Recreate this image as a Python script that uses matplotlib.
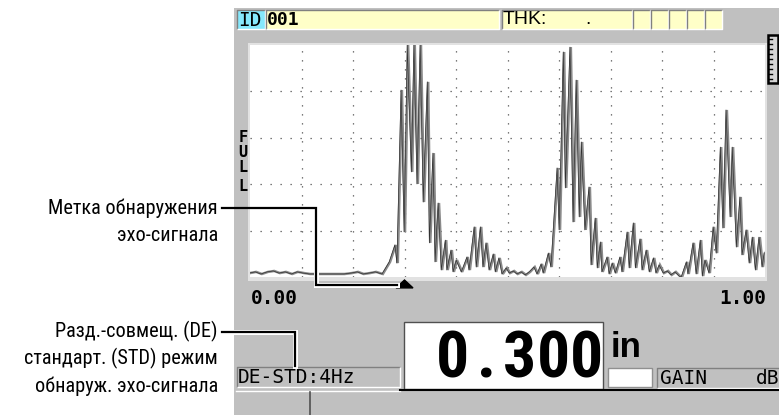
import os
import matplotlib
matplotlib.use("Agg")
import matplotlib.pyplot as plt
from matplotlib import font_manager
from matplotlib.font_manager import FontProperties
from matplotlib.patches import Rectangle, Polygon
from matplotlib.transforms import blended_transform_factory, offset_copy

# ---- data ----
ECHO_DEPTH_IN = [0.000, 0.012, 0.023, 0.035, 0.047, 0.058, 0.070, 0.082, 0.093, 0.105, 0.117, 0.132,
                 0.184, 0.198, 0.210, 0.221, 0.233, 0.245, 0.258, 0.272, 0.283, 0.287, 0.295, 0.301,
                 0.307, 0.315, 0.320, 0.326, 0.332, 0.338, 0.346, 0.350, 0.357, 0.361, 0.367, 0.373,
                 0.381, 0.384, 0.392, 0.396, 0.402, 0.412, 0.423, 0.427, 0.437, 0.441, 0.449, 0.454,
                 0.460, 0.466, 0.474, 0.478, 0.485, 0.491, 0.499, 0.505, 0.513, 0.520, 0.528, 0.536,
                 0.544, 0.553, 0.559, 0.567, 0.571, 0.581, 0.586, 0.598, 0.602, 0.610, 0.614, 0.623,
                 0.629, 0.635, 0.641, 0.645, 0.652, 0.660, 0.664, 0.672, 0.676, 0.682, 0.685, 0.695,
                 0.699, 0.705, 0.711, 0.720, 0.724, 0.734, 0.738, 0.746, 0.750, 0.759, 0.763, 0.771,
                 0.777, 0.785, 0.790, 0.796, 0.804, 0.812, 0.819, 0.827, 0.835, 0.839, 0.849, 0.852,
                 0.862, 0.868, 0.876, 0.880, 0.885, 0.893, 0.901, 0.907, 0.915, 0.920, 0.926, 0.934,
                 0.938, 0.946, 0.953, 0.957, 0.965, 0.971, 0.977, 0.983, 0.990, 0.996, 1.000]
ECHO_AMP_PCT = [1.7, 2.2, 1.3, 2.2, 2.6, 1.7, 2.2, 1.3, 2.2, 1.7, 1.3, 1.3,
                1.3, 1.7, 2.2, 1.3, 1.7, 2.2, 1.3, 6.5, 13.8, 6.0, 80.6, 19.4,
                100, 45.3, 100, 40.1, 100, 32.3, 84.1, 14.7, 53.4, 6.5, 31.9, 3.0,
                15.9, 3.0, 11.6, 2.2, 7.3, 2.2, 8.6, 3.0, 21.6, 4.3, 21.6, 4.3,
                14.7, 3.0, 9.9, 2.2, 8.2, 1.3, 3.9, 1.7, 2.6, 1.3, 2.2, 0.9,
                2.2, 4.3, 1.3, 5.6, 1.7, 10.3, 4.3, 47.0, 20.3, 97.0, 38.4, 99.1,
                23.7, 84.9, 25.9, 58.2, 20.3, 38.8, 5.2, 25.4, 3.9, 15.1, 2.2, 8.6,
                1.3, 6.0, 1.7, 8.6, 2.2, 19.4, 3.9, 23.3, 3.9, 16.4, 3.0, 11.6,
                2.2, 8.2, 1.7, 5.2, 1.7, 2.6, 0.9, 2.2, 0.4, 0.0, 6.5, 1.3,
                14.7, 1.3, 15.9, 0.4, 7.3, 1.7, 21.6, 10.3, 56.0, 21.1, 72.0, 25.9,
                56.0, 12.9, 34.5, 9.5, 20.3, 6.0, 17.2, 3.0, 17.2, 4.3, 10.3]
RANGE_IN = [0.00, 1.00]
GRID_X = [0.1, 0.2, 0.3, 0.4, 0.5, 0.6, 0.7, 0.8, 0.9]
GRID_Y = [20, 40, 60, 80]
THK_READING = 0.300
UNITS = "in"
MODE = "DE-STD:4Hz"
FILE_ID = "001"
CALLOUTS = [("Метка обнаружения", 208), ("эхо-сигнала", 235),
            ("Разд.-совмещ. (DE)", 331), ("стандарт. (STD) режим", 358),
            ("обнаруж. эхо-сигнала", 386)]

# ---- look ----
W, H = 779, 415
SCREEN = "#C0C0C0"; DARK = "#808080"; CYAN = "#86E8FC"; YEL = "#FFFFC8"; INK = "#000000"
MONO = "DejaVu Sans Mono"

# narrow faces, best first (matched on file name)
BOLD_PREF = ["liberationsansnarrow-bold.", "arialnarrow-bold", "arialnb", "notosans-condensedbold.",
             "robotocondensed-bold.", "notosans-semicondensedbold.", "opensans-condensedbold",
             "notosans-extracondensedbold.", "dejavusanscondensed-bold."]
REG_PREF = ["liberationsansnarrow-regular.", "arialnarrow.", "arialn.", "notosans-condensed.",
            "notosans-condensedregular.", "robotocondensed-regular.", "notosans-semicondensed.",
            "notosans-semicondensedregular.", "dejavusanscondensed."]

def pick(prefs):
    files = {os.path.basename(f.fname).lower(): f.fname for f in font_manager.fontManager.ttflist}
    for p in prefs:
        for b, full in files.items():
            if b.startswith(p):
                return full
    return None

NAR_B = pick(BOLD_PREF); NAR_R = pick(REG_PREF)
def fp(size, bold, path):
    if path:
        return FontProperties(fname=path, size=size)
    return FontProperties(family="Liberation Sans", weight="bold" if bold else "normal", size=size)

fig = plt.figure(figsize=(W/100, H/100), dpi=100)
rend = fig.canvas.get_renderer()

def fit_size(s, path, bold, target_w, max_size):
    t = fig.text(0, 0, s, fontproperties=fp(20, bold, path))
    w = t.get_window_extent(renderer=rend).width
    t.remove()
    return min(max_size, 20 * target_w / w)

bg = fig.add_axes([0, 0, 1, 1], zorder=0); bg.set_xlim(0, W); bg.set_ylim(H, 0); bg.axis("off")
top = fig.add_axes([0, 0, 1, 1], zorder=3); top.set_xlim(0, W); top.set_ylim(H, 0); top.axis("off")
top.patch.set_alpha(0)

def rect(ax, x0, y0, x1, y1, fc, ec="none", lw=1.0, z=1):
    ax.add_patch(Rectangle((x0, y0), x1-x0, y1-y0, fc=fc, ec=ec, lw=lw, zorder=z))

def inset(ax, x0, y0, x1, y1, fc, z=2):
    rect(ax, x0, y0, x1, y1, fc, z=z)
    ax.plot([x0, x0, x1], [y1, y0, y0], color=DARK, lw=1, zorder=z+1, solid_capstyle="butt")
    ax.plot([x0, x1, x1], [y1, y1, y0], color="white", lw=1, zorder=z+1, solid_capstyle="butt")

def txt(ax, x, y, s, fs=14, fam=MONO, bold=False, ha="left", va="center", z=5):
    ax.text(x, y, s, fontsize=fs, family=fam, fontweight="bold" if bold else "normal",
            ha=ha, va=va, color=INK, zorder=z)

# screen body
rect(bg, 234, 8, W, H, SCREEN)
# top status bar
inset(bg, 237, 10, 265, 29, CYAN)
inset(bg, 266, 10, 499, 29, YEL)
inset(bg, 502, 10, 632, 29, YEL)
for x0 in [633, 651, 669, 687, 705]:
    inset(bg, x0, 10, x0+17, 29, YEL)
txt(bg, 238, 20, "ID", fs=14)
txt(bg, 267, 20, FILE_ID, fs=13, bold=True)
txt(bg, 503, 20, "THK:", fs=14, fam="Liberation Sans")
txt(bg, 588, 20, ".", fs=14, fam="Liberation Sans", ha="center")

# scope frame + right scale
rect(bg, 248, 43, 767, 281, "#E2E2E2")
rect(bg, 768, 35, 778, 83, "#D4D4D4", ec=INK, lw=1.8, z=3)
for yy in range(39, 81, 5):
    bg.plot([769, 772], [yy, yy], color=INK, lw=1, zorder=4)

# FULL label
for ch, yy in zip("FULL", [137.5, 152.5, 167.5, 186.5]):
    txt(bg, 243, yy, ch, fs=11, bold=True, ha="center")

# A-scan waveform
ax = fig.add_axes([250/W, (H-277)/H, 515/W, 232/H], zorder=1)
ax.set_facecolor("white")
ax.set_xlim(RANGE_IN); ax.set_ylim(0, 100)
for s in ax.spines.values():
    s.set_visible(False)
ax.set_xticks([]); ax.set_yticks([])
for gx in GRID_X:
    ax.axvline(gx, color="#505050", lw=0.9, ls=(0, (1, 6.2)), zorder=1)
for gy in GRID_Y:
    ax.axhline(gy, color="#505050", lw=0.9, ls=(0, (1, 7)), zorder=1)
ax.plot(ECHO_DEPTH_IN, ECHO_AMP_PCT, color="#8A8A8A", lw=1.8, zorder=2, solid_joinstyle="miter")
ax.plot(ECHO_DEPTH_IN, ECHO_AMP_PCT, color="#303030", lw=0.5, zorder=3,
        transform=offset_copy(ax.transData, fig=fig, x=-0.9, y=0, units="dots"))
# echo detection marker under the axis
bt = blended_transform_factory(ax.transData, ax.transAxes)
ax.add_patch(Polygon([[THK_READING-0.0165, -0.047], [THK_READING+0.0165, -0.047], [THK_READING, -0.013]],
                     closed=True, fc=INK, ec=INK, transform=bt, clip_on=False, zorder=5))

# range labels
txt(bg, 251, 298, "%.2f" % RANGE_IN[0], fs=14, bold=True)
txt(bg, 766, 298, "%.2f" % RANGE_IN[1], fs=14, bold=True, ha="right")

# big reading
rect(bg, 404, 322, 603, 389, "white", ec="#505050", lw=1, z=2)
reading = "%.3f" % THK_READING
bigfs = fit_size("0", NAR_B, True, 33, 49)
bigfp = fp(bigfs, True, NAR_B)
for ch, xc in zip(reading, [453, 487, 519.5, 553.5, 586.5]):
    bg.text(xc, 377, ch, fontproperties=bigfp, ha="center", va="baseline", color=INK, zorder=5)
bg.text(611, 357, UNITS, fontsize=25, family="Liberation Sans", fontweight="bold",
        ha="left", va="baseline", color=INK, zorder=5)
rect(bg, 608, 368, 652, 387, "white", ec="#909090", lw=1, z=2)
inset(bg, 657, 368, 781, 388, SCREEN)
txt(bg, 660, 378, "GAIN", fs=14)
txt(bg, 779, 378, "dB", fs=14, ha="right")
inset(bg, 237, 367, 400, 387, SCREEN)
txt(bg, 238, 377, MODE, fs=14)
bg.plot([236, 400], [391, 391], color="white", lw=1, zorder=3)
bg.plot([400, W], [390, 390], color=INK, lw=1.5, zorder=3)
bg.plot([310, 310], [392, H], color="#505050", lw=1.2, zorder=3)

# callouts
top.plot([222, 316, 316, 397], [208, 208, 285, 285], color=INK, lw=1.6, zorder=4,
         solid_joinstyle="miter")
top.plot([316, 316, 397], [244, 285, 285], color="white", lw=3.6, zorder=3, solid_joinstyle="miter")
top.plot([222, 295, 295], [332, 332, 366], color=INK, lw=1.6, zorder=4, solid_joinstyle="miter")
top.plot([234, 295, 295], [332, 332, 366], color="white", lw=3.6, zorder=3, solid_joinstyle="miter")
cfs = fit_size("Разд.-совмещ. (DE)", NAR_R, False, 163, 15)
cfp = fp(cfs, False, NAR_R)
for s, yy in CALLOUTS:
    top.text(218, yy, s, fontproperties=cfp, ha="right", va="center", color=INK)

fig.savefig("out.png", dpi=100, facecolor="white")
